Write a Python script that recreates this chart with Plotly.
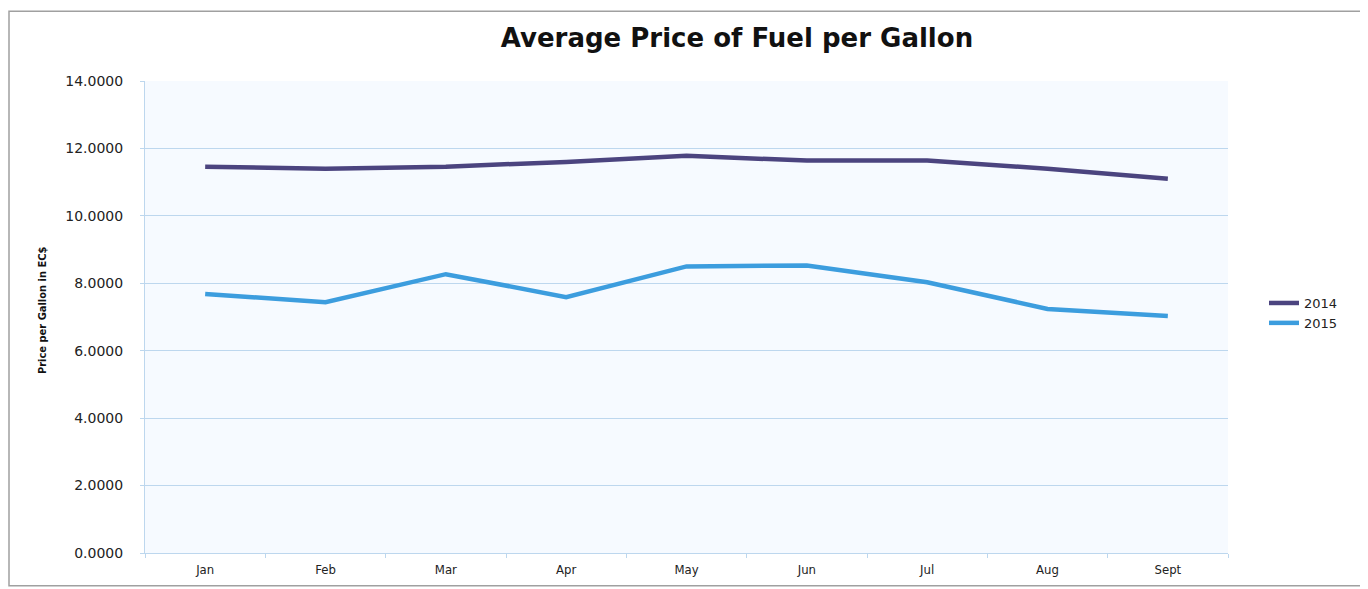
import plotly.graph_objects as go

months = ["Jan", "Feb", "Mar", "Apr", "May", "Jun", "Jul", "Aug", "Sept"]
price_2014 = [11.46, 11.40, 11.46, 11.60, 11.78, 11.64, 11.64, 11.40, 11.10]
price_2015 = [7.68, 7.44, 8.27, 7.59, 8.50, 8.53, 8.03, 7.24, 7.03]
y_ticks = [0, 2, 4, 6, 8, 10, 12, 14]

# page body has an 8px margin, so work in reference coords and shift
OFF = 8
W, H = 1368 - OFF, 589 - OFF
PL, PR, PT, PB = 145, 1228, 81, 555  # plot box in reference pixels
L, R, T, B = PL - OFF, W - (PR - OFF), PT - OFF, H - (PB - OFF)
pw, ph = PR - PL, PB - PT

def px(x):
    return (x - PL) / pw

def py(y):
    return (PB - y) / ph

fig = go.Figure()
fig.add_trace(go.Scatter(x=months, y=price_2014, mode="lines", name="2014",
                         line=dict(color="#4B447F", width=4.5)))
fig.add_trace(go.Scatter(x=months, y=price_2015, mode="lines", name="2015",
                         line=dict(color="#3C9DDE", width=4.5)))

fig.update_layout(
    width=W, height=H,
    margin=dict(l=L, r=R, t=T, b=B),
    paper_bgcolor="white",
    plot_bgcolor="#F6FAFF",
    title=dict(text="<b>Average Price of Fuel per Gallon</b>",
               xref="paper", x=px(737), xanchor="center",
               y=1 - (38 - OFF) / H, yanchor="middle",
               font=dict(family="DejaVu Sans", size=26, color="#111111")),
    showlegend=True,
    legend=dict(x=px(1264), xanchor="left", y=py(314), yanchor="middle",
                font=dict(family="DejaVu Sans", size=13, color="#222222"),
                bgcolor="rgba(0,0,0,0)", tracegroupgap=0, itemwidth=30),
    font=dict(family="DejaVu Sans", size=12, color="#222222"),
)

fig.update_xaxes(
    type="category", showgrid=False, tickson="boundaries",
    ticks="outside", ticklen=4, tickcolor="#BDD7EE",
    showline=True, linecolor="#BDD7EE", linewidth=1,
    ticklabelstandoff=4,
    tickfont=dict(family="DejaVu Sans Condensed", size=13, color="#222222"),
    range=[-0.5, 8.5],
)
fig.update_yaxes(
    range=[0, 14], tickvals=y_ticks, tickformat=".4f",
    showgrid=True, gridcolor="#BDD7EE", gridwidth=1,
    ticks="outside", ticklen=4, tickcolor="#BDD7EE",
    showline=True, linecolor="#BDD7EE", linewidth=1,
    zeroline=False, ticklabelstandoff=14,
    tickfont=dict(family="DejaVu Sans", size=14, color="#222222"),
)

fig.add_annotation(text="<b>Price per Gallon in EC$</b>", textangle=-90,
                   xref="paper", yref="paper", x=px(42), y=py(312),
                   xanchor="center", yanchor="middle", showarrow=False,
                   font=dict(family="DejaVu Sans Condensed", size=11, color="#111111"))

fig.add_shape(type="rect", xref="paper", yref="paper",
              x0=px(OFF + 1), x1=px(1363), y0=py(H + OFF - 1), y1=py(11),
              line=dict(color="#A0A0A0", width=1.5), fillcolor="rgba(0,0,0,0)", layer="below")

fig.write_html("out.html")
